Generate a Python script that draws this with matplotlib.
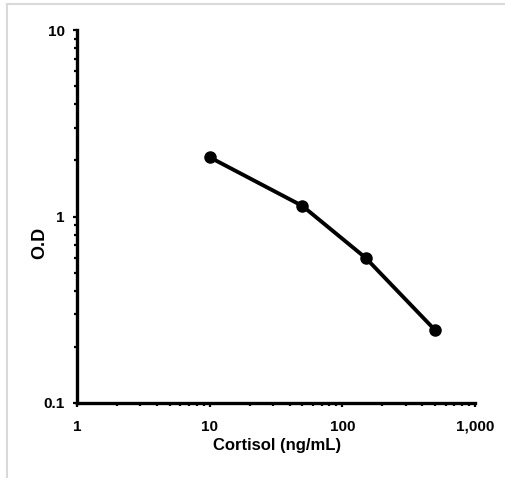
import numpy as np
import matplotlib.pyplot as plt
from matplotlib.lines import Line2D
from matplotlib.ticker import FixedLocator, LogLocator, NullFormatter

# --- Standard curve data ---
conc = [10, 50, 150, 500]          # Cortisol (ng/mL)
od = [2.08, 1.14, 0.60, 0.246]     # O.D

x_ticks = [1, 10, 100, 1000]
x_labels = ['1', '10', '100', '1,000']
y_ticks = [0.1, 1, 10]
y_labels = ['0.1', '1', '10']

plt.rcParams['font.family'] = ['Liberation Sans', 'DejaVu Sans']
plt.rcParams['font.weight'] = 'bold'

fig = plt.figure(figsize=(5.05, 4.78), dpi=100)
ax = fig.add_axes([0.1525, 0.157, 0.788, 0.780])

ax.plot(conc, od, color='black', linewidth=2.8, marker='o', markersize=8,
        solid_capstyle='round', solid_joinstyle='round')

ax.set_xscale('log')
ax.set_yscale('log')
ax.set_xlim(1, 1000)
ax.set_ylim(0.1, 10)

ax.xaxis.set_major_locator(FixedLocator(x_ticks))
ax.set_xticklabels(x_labels)
ax.yaxis.set_major_locator(FixedLocator(y_ticks))
ax.set_yticklabels(y_labels)
ax.xaxis.set_minor_locator(LogLocator(base=10, subs=np.arange(2, 10)))
ax.yaxis.set_minor_locator(LogLocator(base=10, subs=np.arange(2, 10)))
ax.xaxis.set_minor_formatter(NullFormatter())
ax.yaxis.set_minor_formatter(NullFormatter())

for side in ['top', 'right']:
    ax.spines[side].set_visible(False)
for side in ['left', 'bottom']:
    ax.spines[side].set_linewidth(2.4)

ax.tick_params(which='major', direction='out', length=3, width=1.6,
               labelsize=11)
ax.tick_params(axis='x', which='major', pad=9)
ax.tick_params(axis='y', which='major', pad=6)
ax.tick_params(which='minor', direction='out', length=2, width=1.6)
for lbl in ax.get_xticklabels() + ax.get_yticklabels():
    lbl.set_fontweight('bold')

fig.text(0.549, 0.069, 'Cortisol (ng/mL)', ha='center', va='center',
         fontsize=12, fontweight='bold')
fig.text(0.079, 0.492, 'O.D', ha='center', va='center', rotation=90,
         fontsize=13, fontweight='bold')

# light frame around the picture
fig.add_artist(Line2D([0.014, 1.0], [0.991, 0.991], color='#d9d9d9',
                      linewidth=1.5, transform=fig.transFigure))
fig.add_artist(Line2D([0.014, 0.014], [0.0, 0.991], color='#d9d9d9',
                      linewidth=1.5, transform=fig.transFigure))

plt.savefig('out.png', dpi=100)
